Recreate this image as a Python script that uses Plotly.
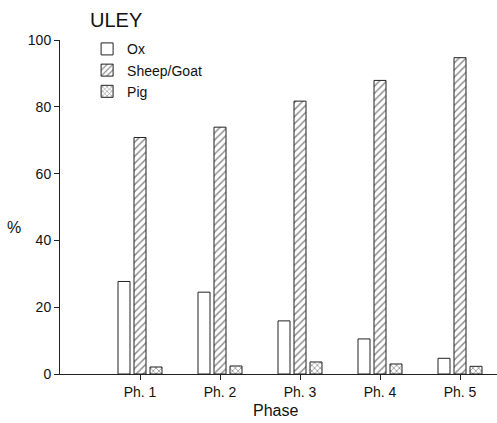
import plotly.graph_objects as go

phases = ["Ph. 1", "Ph. 2", "Ph. 3", "Ph. 4", "Ph. 5"]
ox = [27.7, 24.5, 15.9, 10.5, 4.7]
sheep_goat = [70.8, 73.9, 81.7, 87.9, 94.7]
pig = [2.1, 2.4, 3.6, 3.0, 2.3]
y_ticks = [0, 20, 40, 60, 80, 100]

FONT = "Liberation Sans, Arial, Helvetica, sans-serif"
LINE = "#222222"

fig = go.Figure()
fig.add_trace(go.Bar(
    x=phases, y=ox, name="Ox",
    marker=dict(color="white", line=dict(color=LINE, width=1)),
))
fig.add_trace(go.Bar(
    x=phases, y=sheep_goat, name="Sheep/Goat",
    marker=dict(color="white", line=dict(color=LINE, width=1),
                pattern=dict(shape="/", size=5, solidity=0.3,
                             fgcolor="#222222", bgcolor="white")),
))
fig.add_trace(go.Bar(
    x=phases, y=pig, name="Pig",
    marker=dict(color="white", line=dict(color=LINE, width=1),
                pattern=dict(shape="x", size=4, solidity=0.35,
                             fgcolor="#222222", bgcolor="white")),
))

fig.update_layout(
    width=497, height=423,
    margin=dict(l=60, r=0, t=40, b=49),
    paper_bgcolor="white", plot_bgcolor="white",
    barmode="group", bargap=0.4, bargroupgap=0.25,
    font=dict(family=FONT, size=14, color="#111111"),
    showlegend=True,
    legend=dict(x=0.062, y=1.02, xanchor="left", yanchor="top",
                bgcolor="rgba(0,0,0,0)", font=dict(size=14),
                tracegroupgap=0, itemwidth=30),
    title=dict(text="ULEY", x=90/497, xanchor="left", y=1-20/423, yanchor="middle",
               font=dict(size=20, family=FONT, color="#111111")),
    xaxis=dict(range=[-1, 4.4625], showline=True, linecolor=LINE, linewidth=1,
               ticks="outside", ticklen=5, tickcolor=LINE, showgrid=False,
               zeroline=False, tickfont=dict(size=14)),
    yaxis=dict(range=[0, 100], tickvals=y_ticks, showline=True, linecolor=LINE,
               linewidth=1, ticks="outside", ticklen=5, tickcolor=LINE,
               showgrid=False, zeroline=False, tickfont=dict(size=14)),
    annotations=[
        dict(text="%", xref="paper", yref="paper", x=-0.105, y=0.44,
             xanchor="center", yanchor="middle", showarrow=False,
             font=dict(size=16, family=FONT)),
        dict(text="Phase", xref="paper", yref="paper", x=(275-60)/437, y=-(410-374)/334,
             xanchor="center", yanchor="middle", showarrow=False,
             font=dict(size=16, family=FONT)),
    ],
)

fig.write_html("out.html")
